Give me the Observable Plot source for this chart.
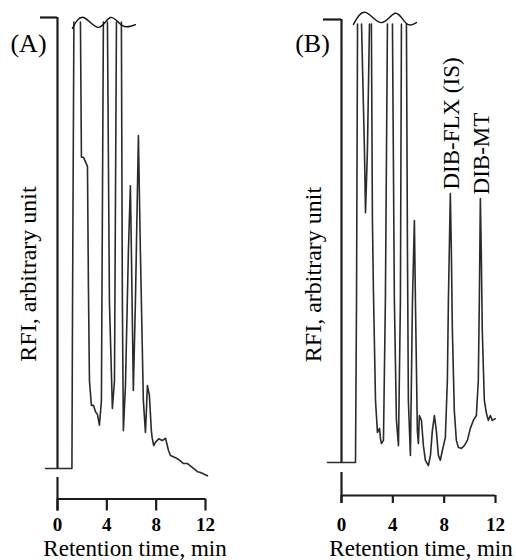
<!DOCTYPE html>
<html>
<head>
<meta charset="utf-8">
<script src="https://cdn.jsdelivr.net/npm/d3@7"></script>
<script src="https://cdn.jsdelivr.net/npm/@observablehq/plot@0.6"></script>
<style>
  body { margin: 0; background: #fff; }
  #row { display: flex; width: 516px; height: 560px; }
</style>
</head>
<body>
<div id="row"></div>
<script>
// ---- labels ----
const xTicks = [0, 4, 8, 12];
const xLabel = "Retention time, min";
const yLabel = "RFI, arbitrary unit";
const panelNames = ["(A)", "(B)"];

// ---- trace A: retention time (min) and RFI (% of full scale); NaN = off-scale gap ----
const timeA = [-0.97, 1.17, 1.22, 1.33, NaN, 1.86, 1.94, 2.11, 2.43, 2.51, 2.59, 2.75, 2.92, 3.08, 3.24, 3.40, 3.56, 3.72, NaN,
  4.05, 4.21, 4.45, 4.62, 4.78, NaN, 5.18, 5.26, 5.34, 5.51, 5.75, 5.91, 5.99, 6.15, 6.32, 6.56, 6.72, 6.96, 7.13, 7.21, 7.29,
  7.45, 7.61, 7.67, 7.80, 7.94, 8.21, 8.49, 8.76, 9.00, 9.16, 9.57, 9.81, 10.22, 10.54, 10.95, 11.35, 11.60, 12.16];
const rfiA = [0, 0, 37, 99, NaN, 99, 69, 69, 67, 39.5, 19.5, 14, 14, 12.6, 12, 9.6, 15, 99, NaN,
  99, 37, 13.3, 19.5, 99, NaN, 99, 37, 8.4, 18.4, 48.3, 62.7, 48.3, 17.3, 37.3, 73.8, 48.3, 15.1, 8.0, 12.9, 18.4,
  16.2, 8.4, 6.9, 5.1, 5.8, 6.6, 6.2, 6.7, 4.0, 2.9, 2.4, 2.0, 1.1, 1.1, 0.2, -0.7, -0.9, -1.6];

// ---- trace B ----
const timeB = [-1.09, 1.09, 1.17, 1.25, NaN, 1.56, 1.79, 1.87, 2.02, 2.18, NaN, 2.33, 2.41, 2.49, 2.65, 2.80, 2.96, 3.04, 3.11,
  3.27, 3.42, 3.58, NaN, 3.97, 4.12, 4.28, 4.44, 4.59, 4.67, NaN, 5.06, 5.14, 5.21, 5.37, 5.53, 5.68, 5.76, 5.91, 5.99, 6.07,
  6.23, 6.38, 6.54, 6.77, 6.93, 7.08, 7.24, 7.39, 7.55, 7.70, 7.86, 8.09, 8.25, 8.33, 8.48, 8.56, 8.64, 8.79, 8.95, 9.11,
  9.34, 9.57, 9.81, 10.04, 10.27, 10.51, 10.66, 10.74, 10.82, 10.89, 10.97, 11.13, 11.28, 11.44, 11.60, 11.75, 11.98];
const rfiB = [0, 0, 36.6, 99, NaN, 99, 70.4, 56.4, 70.4, 99, NaN, 99, 54.6, 38.4, 14.0, 6.8, 7.7, 5.4, 4.3,
  5.0, 36.6, 99, NaN, 99, 36.6, 9.5, 3.8, 36.6, 99, NaN, 99, 47.9, 14.0, 1.6, 36.6, 54.6, 36.6, 7.2, 4.3, 10.6,
  9.5, 3.8, 0.5, -0.7, 1.6, 7.2, 10.6, 7.2, 1.6, 0.5, 2.7, 5.6, 18.5, 36.6, 60.7, 47.9, 29.8, 11.7, 5.0, 3.4,
  3.2, 3.8, 5.0, 7.7, 9.5, 10.6, 18.5, 36.6, 59.6, 47.9, 29.8, 14.0, 11.3, 9.5, 10.6, 9.5, 9.9];

// ---- named peaks in B ----
const peakNames = ["DIB-FLX (IS)", "DIB-MT"];
const peakTimes = [8.48, 10.82];
const peakHeights = [60.7, 59.6];

// ---- off-scale break marks (wavy lines) ----
const breakTimeA = [1.21, 2.11, 3.32, 4.29, 5.26, 6.32];
const breakRfiA = [97.6, 100, 97.8, 100, 98.2, 98.4];
const breakTimeB = [0.93, 1.87, 3.11, 4.20, 5.06, 5.84];
const breakRfiB = [98.9, 101.6, 99.3, 101.4, 99.1, 99.3];

const INK = "#1c1c1c";
const FONT = "'Liberation Serif', 'Times New Roman', serif";

function panel(o) {
  return Plot.plot({
    width: 258,
    height: 560,
    marginLeft: o.ml, marginRight: o.mr, marginTop: o.mt, marginBottom: o.mb,
    style: {fontFamily: FONT, background: "white", overflow: "visible", color: "black"},
    x: {domain: [0, 12], axis: null},
    y: {domain: [0, 100], axis: null},
    marks: [
      // y bracket
      Plot.ruleX([0], {x: d => d, y1: 0, y2: 100, stroke: INK, strokeWidth: 2.2}),
      Plot.ruleY([100], {y: d => d, x1: 0, x2: 0, insetLeft: -o.topTick, stroke: INK, strokeWidth: 2.2}),
      // x axis line
      Plot.ruleY([0], {y: d => d, x1: xTicks[0], x2: xTicks[xTicks.length - 1], dy: o.axisOff, stroke: INK, strokeWidth: 2.2}),
      // ticks
      Plot.ruleX(xTicks, {x: d => d, y1: 0, y2: 0, insetTop: o.axisOff, insetBottom: -(o.axisOff + o.tickLen), stroke: INK, strokeWidth: 2.2}),
      Plot.ruleX([xTicks[0]], {x: d => d, y1: 0, y2: 0, insetTop: o.zeroTop, insetBottom: -(o.axisOff + o.tickLen), stroke: INK, strokeWidth: 2.2}),
      Plot.text(xTicks, {x: d => d, y: 0, text: d => String(d), dy: o.labOff, lineAnchor: "top", fontSize: 19, fontWeight: "bold", fill: "black"}),
      // axis titles
      Plot.text([xLabel], {text: d => d, frameAnchor: "bottom", textAnchor: "middle", lineAnchor: "bottom", dy: o.xTitleDy, dx: o.xTitleDx, fontSize: 23, fill: "black"}),
      Plot.text([yLabel], {text: d => d, frameAnchor: "left", textAnchor: "middle", rotate: -90, lineAnchor: "middle", dx: o.yTitleDx, dy: o.yTitleDy, fontSize: 24, fill: "black"}),
      Plot.text([o.name], {text: d => d, frameAnchor: "top-left", textAnchor: "middle", lineAnchor: "middle", dx: o.nameDx, dy: o.nameDy, fontSize: 26, fill: "black"}),
      // chromatogram
      Plot.line(o.time, {x: o.time, y: o.rfi, stroke: "#2a2a2a", strokeWidth: 1.6, strokeLinejoin: "round"}),
      // break marks
      Plot.line(o.bt, {x: o.bt, y: o.bv, curve: "natural", stroke: "#111", strokeWidth: 1.4}),
      ...(o.extra || [])
    ]
  });
}

const row = document.getElementById("row");
row.append(panel({
  name: panelNames[0], time: timeA, rfi: rfiA, bt: breakTimeA, bv: breakRfiA,
  ml: 57, mr: 53, mt: 17, mb: 92,
  topTick: 17, axisOff: 30.5, tickLen: 12, zeroTop: 9, labOff: 48.5,
  xTitleDy: 87, xTitleDx: 3.5, yTitleDx: -29, yTitleDy: 31, nameDx: -29, nameDy: 26.5
}));
row.append(panel({
  name: panelNames[1], time: timeB, rfi: rfiB, bt: breakTimeB, bv: breakRfiB,
  ml: 83, mr: 21, mt: 19, mb: 98,
  topTick: 18, axisOff: 33, tickLen: 8, zeroTop: 10, labOff: 54.5,
  xTitleDy: 93, xTitleDx: 2.5, yTitleDx: -28, yTitleDy: 33.5, nameDx: -29, nameDy: 24.5,
  extra: [
    Plot.text(peakNames, {x: (d, i) => peakTimes[i], y: (d, i) => peakHeights[i], text: d => d,
      rotate: -90, textAnchor: "start", lineAnchor: "middle", dy: -4, dx: 1, fontSize: 23, fill: "black"})
  ]
}));
</script>
</body>
</html>
